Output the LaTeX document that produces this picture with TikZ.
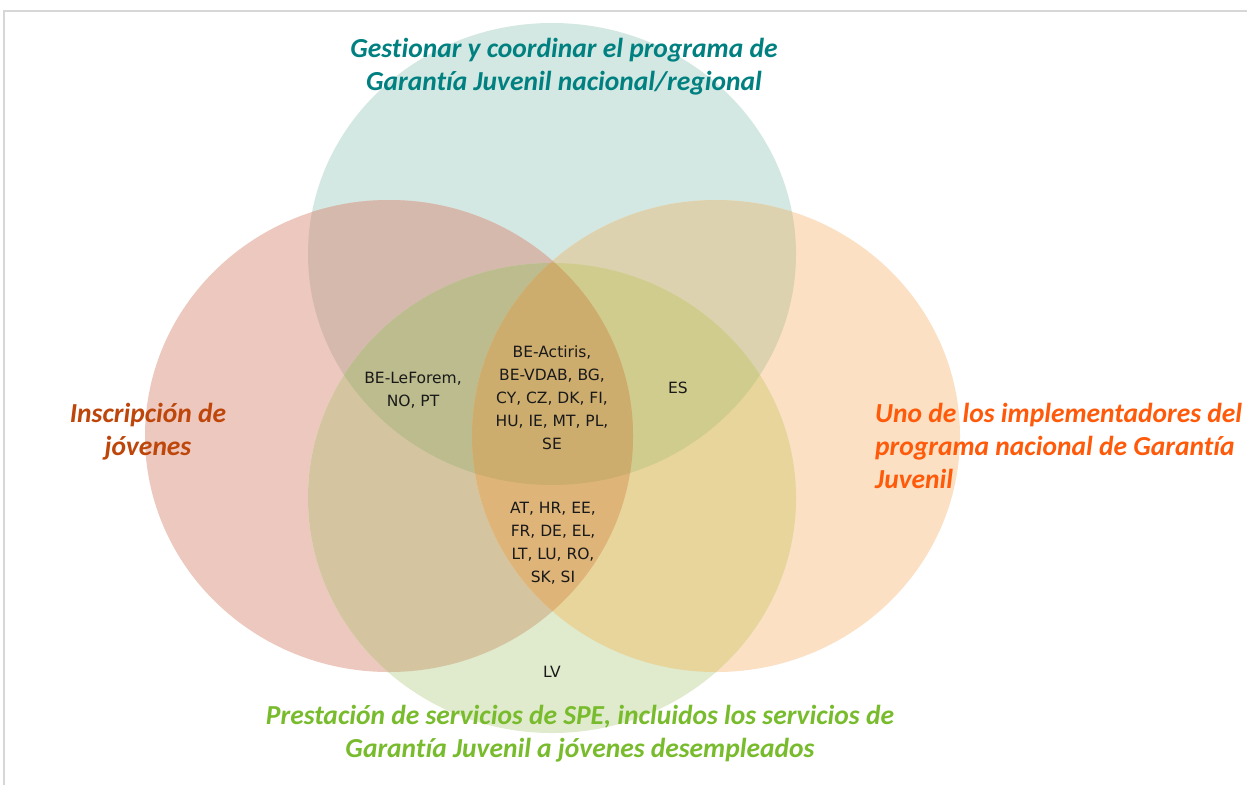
\documentclass[tikz,border=0pt]{standalone}
\usepackage{fontspec}
\setmainfont[Ligatures=NoCommon]{Carlito}
\newfontfamily\labfont{DejaVu Sans}
\definecolor{cT}{RGB}{211,232,226}
\definecolor{cR}{RGB}{236,200,190}
\definecolor{cO}{RGB}{251,224,196}
\definecolor{cG}{RGB}{224,234,204}
\definecolor{cTR}{RGB}{212,185,172}
\definecolor{cTO}{RGB}{220,210,175}
\definecolor{cTG}{RGB}{200,222,200}
\definecolor{cRO}{RGB}{226,186,160}
\definecolor{cRG}{RGB}{212,197,160}
\definecolor{cOG}{RGB}{232,213,155}
\definecolor{cTRO}{RGB}{208,176,140}
\definecolor{cTRG}{RGB}{188,188,142}
\definecolor{cTOG}{RGB}{208,204,142}
\definecolor{cROG}{RGB}{222,180,120}
\definecolor{cTROG}{RGB}{205,173,110}
\definecolor{tTeal}{RGB}{0,128,128}
\definecolor{tBrown}{RGB}{190,70,10}
\definecolor{tOrange}{RGB}{255,90,10}
\definecolor{tGreen}{RGB}{120,188,45}
\definecolor{frame}{RGB}{215,215,215}
\def\Tp{(552,254) ellipse [x radius=244, y radius=231]}
\def\Rp{(389,436) ellipse [x radius=244, y radius=236]}
\def\Op{(716,436) ellipse [x radius=244, y radius=236]}
\def\Gp{(552,498) ellipse [x radius=244, y radius=235]}
\def\All{(0,0) rectangle (1247,785)}
\tikzset{
  lab/.style={font=\labfont\fontsize{15.5}{23}\selectfont, align=center, text=black!90, inner sep=0pt},
  ttl/.style={font=\fontsize{27.5}{33}\selectfont\bfseries\itshape, inner sep=0pt}
}
\begin{document}
\begin{tikzpicture}[x=1pt,y=-1pt]
\useasboundingbox \All;
\fill[white] \All;
% single
\fill[cT] \Tp; \fill[cR] \Rp; \fill[cO] \Op; \fill[cG] \Gp;
% pairs
\begin{scope}\clip \Tp; \fill[cTR] \Rp; \end{scope}
\begin{scope}\clip \Tp; \fill[cTO] \Op; \end{scope}
\begin{scope}\clip \Tp; \fill[cTG] \Gp; \end{scope}
\begin{scope}\clip \Rp; \fill[cRO] \Op; \end{scope}
\begin{scope}\clip \Rp; \fill[cRG] \Gp; \end{scope}
\begin{scope}\clip \Op; \fill[cOG] \Gp; \end{scope}
% triples
\begin{scope}\clip \Tp; \clip \Rp; \fill[cTRO] \Op; \end{scope}
\begin{scope}\clip \Tp; \clip \Rp; \fill[cTRG] \Gp; \end{scope}
\begin{scope}\clip \Tp; \clip \Op; \fill[cTOG] \Gp; \end{scope}
\begin{scope}\clip \Rp; \clip \Op; \fill[cROG] \Gp; \end{scope}
% quad
\begin{scope}\clip \Tp; \clip \Rp; \clip \Op; \fill[cTROG] \Gp; \end{scope}
% frame
\draw[frame, line width=1.5pt] (4,785) -- (4,11) -- (1247,11);
% titles
\node[ttl, text=tTeal, align=center] (tT) at (564,66.5) {Gestionar y coordinar el programa de\\Garantía Juvenil nacional/regional};
\node[ttl, text=tBrown, align=center] (tR) at (148,431.5) {Inscripción de\\jóvenes};
\node[ttl, text=tOrange, align=left, anchor=west] (tO) at (875,446) {Uno de los implementadores del\\programa nacional de Garantía\\Juvenil};
\node[ttl, text=tGreen, align=center] (tG) at (580,733.5) {Prestación de servicios de SPE, incluidos los servicios de\\Garantía Juvenil a jóvenes desempleados};
% labels
\node[lab] (l1) at (413,390) {BE-LeForem,\\NO, PT};
\node[lab] (l2) at (552,397.5) {BE-Actiris,\\BE-VDAB, BG,\\CY, CZ, DK, FI,\\HU, IE, MT, PL,\\SE};
\node[lab] (l3) at (678,388) {ES};
\node[lab] (l4) at (553,543.5) {AT, HR, EE,\\FR, DE, EL,\\LT, LU, RO,\\SK, SI};
\node[lab] (l5) at (552,672) {LV};
\end{tikzpicture}
\end{document}
